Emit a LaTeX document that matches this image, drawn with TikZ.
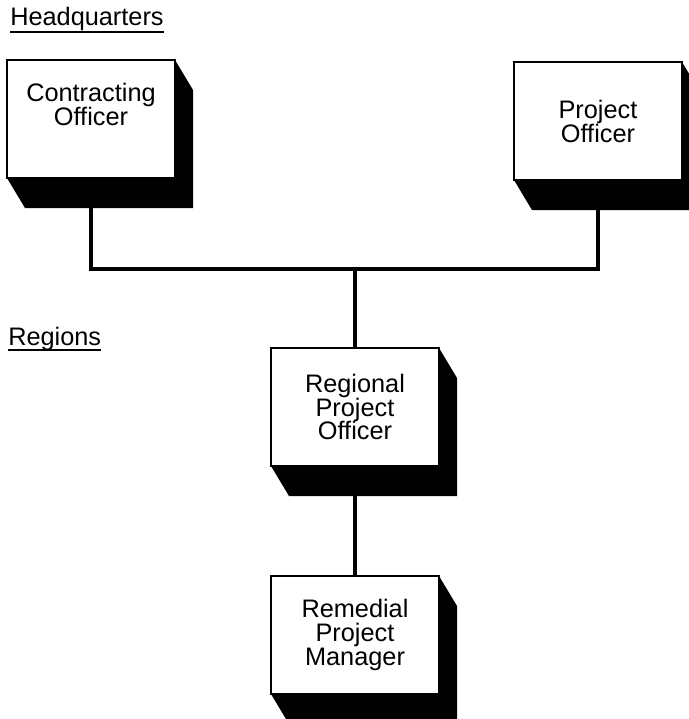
\documentclass[tikz,border=0pt]{standalone}
\usepackage{fontspec}
\setmainfont{Liberation Sans}
\begin{document}
\begin{tikzpicture}[x=0.025cm,y=-0.025cm]
	\tikzset{officebox/.style={draw,line width=0.8pt,fill=white,minimum width=4.2cm,minimum height=2.95cm,outer sep=0pt,inner sep=0pt,align=center,font=\fontsize{18}{17}\selectfont},
		heading/.style={anchor=base west,inner sep=0pt,font=\fontsize{18}{17}\selectfont},
		link/.style={line width=2.4pt}};
	\useasboundingbox (0,0) rectangle (689,719);
	% level labels
	\node[heading] (hq) at (10,25) {Headquarters};
	\node[heading] (rg) at (8,345) {Regions};
	\draw[line width=1.2pt] ([yshift=-0.18cm]hq.base west) -- ([yshift=-0.18cm]hq.base east);
	\draw[line width=1.2pt] ([yshift=-0.12cm]rg.base west) -- ([yshift=-0.12cm]rg.base east);
	% boxes
	\node[officebox] (co) at (91,119) {Contracting\\Officer\\[4pt]};
	\node[officebox] (po) at (598,121) {Project\\Officer};
	\node[officebox] (rpo) at (355,407) {Regional\\Project\\Officer};
	\node[officebox] (rpm) at (355,635) {Remedial\\Project\\Manager};
	\coordinate (hub) at (355,269);
	\draw[link] (co.south) |- (hub) -| (po.south);
	\draw[link] (hub) -- (rpo.north);
	\draw[link] (rpo.south) -- (rpm.north);
	% solid sides
	\foreach \b in {co,po,rpo,rpm}
		\fill (\b.north east) -- ++(18,30) -- ([shift={(18,30)}]\b.south east) -- ([shift={(18,30)}]\b.south west) -- (\b.south west) -- (\b.south east) -- cycle;
\end{tikzpicture}
\end{document}
